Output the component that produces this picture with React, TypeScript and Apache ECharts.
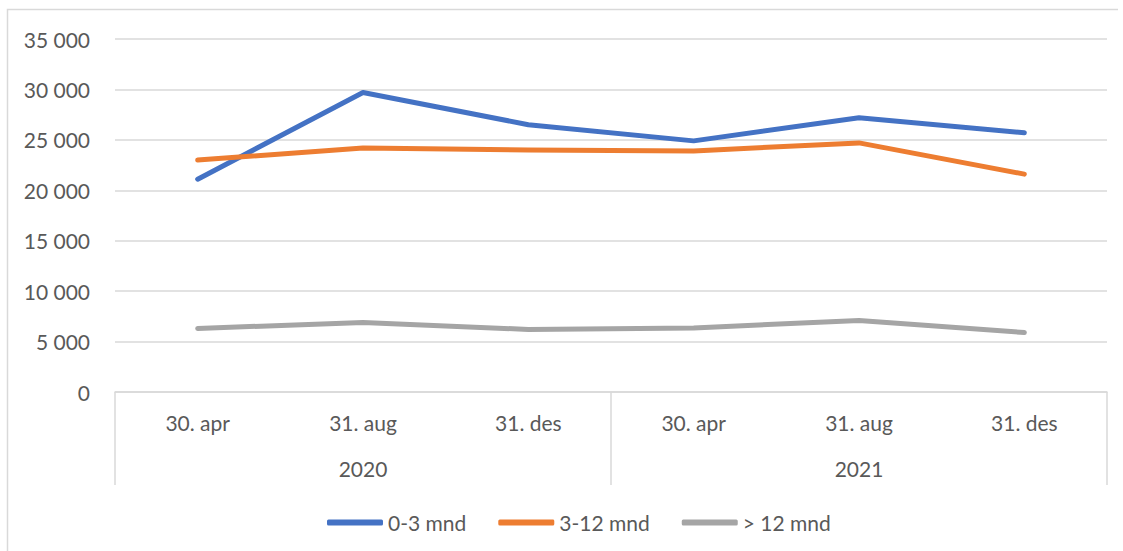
import React, { useEffect, useRef } from "react";
import * as echarts from "echarts";

const categories = ["30. apr", "31. aug", "31. des", "30. apr", "31. aug", "31. des"];
const years = ["2020", "2021"];
const seriesNames = ["0-3 mnd", "3-12 mnd", "> 12 mnd"];
const values0to3 = [21100, 29700, 26500, 24900, 27200, 25700];
const values3to12 = [23000, 24200, 24000, 23900, 24700, 21600];
const valuesOver12 = [6300, 6900, 6200, 6350, 7100, 5900];
const yTicks = { min: 0, max: 35000, interval: 5000 };
const colors = ["#4472C4", "#ED7D31", "#A5A5A5"];

const FONT = "Lato, 'Noto Sans', sans-serif";
const TEXT = "#595959";
const GRIDC = "#d9d9d9";
const FS = 21;

function fmt(v: number): string {
  return String(v).replace(/\B(?=(\d{3})+(?!\d))/g, " ");
}

export default function App() {
  const ref = useRef<HTMLDivElement>(null);
  useEffect(() => {
    if (!ref.current) return;
    const chart = echarts.init(ref.current, null, { renderer: "svg" });
    const data = [values0to3, values3to12, valuesOver12];
    chart.setOption({
      animation: false,
      backgroundColor: "#ffffff",
      textStyle: { fontFamily: FONT },
      grid: { left: 115, right: 16, top: 39, bottom: 159 },
      legend: {
        left: 322,
        top: 507,
        icon: "roundRect",
        itemWidth: 56,
        itemHeight: 6,
        itemGap: 32,
        data: seriesNames,
        textStyle: { color: TEXT, fontSize: FS, fontFamily: FONT },
      },
      xAxis: [
        {
          type: "category",
          data: categories,
          boundaryGap: true,
          axisLine: { show: true, lineStyle: { color: GRIDC, width: 1.5 } },
          axisTick: { show: false },
          axisLabel: { color: TEXT, fontSize: FS, fontFamily: FONT, margin: 20, interval: 0 },
          splitLine: { show: false },
        },
        {
          type: "category",
          data: years,
          position: "bottom",
          boundaryGap: true,
          axisLine: { show: false },
          axisTick: { show: true, length: 93, interval: 0, lineStyle: { color: GRIDC, width: 1.5 } },
          axisLabel: { color: TEXT, fontSize: FS, fontFamily: FONT, margin: 66, interval: 0 },
          splitLine: { show: false },
        },
      ],
      yAxis: {
        type: "value",
        min: yTicks.min,
        max: yTicks.max,
        interval: yTicks.interval,
        axisLine: { show: false },
        axisTick: { show: false },
        axisLabel: {
          color: TEXT,
          fontSize: FS,
          fontFamily: FONT,
          margin: 25,
          formatter: (v: number) => fmt(v),
        },
        splitLine: { lineStyle: { color: GRIDC, width: 1.5 } },
      },
      series: seriesNames.map((name, i) => ({
        name,
        type: "line",
        xAxisIndex: 0,
        data: data[i],
        symbol: "none",
        color: colors[i],
        lineStyle: { width: 5, color: colors[i], cap: "round", join: "round" },
        itemStyle: { color: colors[i] },
      })),
      graphic: [
        {
          type: "polyline",
          shape: { points: [[7.5, 551], [7.5, 9.5], [1118, 9.5]] },
          style: { stroke: GRIDC, lineWidth: 1.5, fill: "none" },
          silent: true,
        },
      ],
    });
    return () => chart.dispose();
  }, []);
  return (
    <div
      ref={ref}
      style={{ position: "absolute", left: 0, top: 0, width: 1123, height: 551 }}
    />
  );
}
